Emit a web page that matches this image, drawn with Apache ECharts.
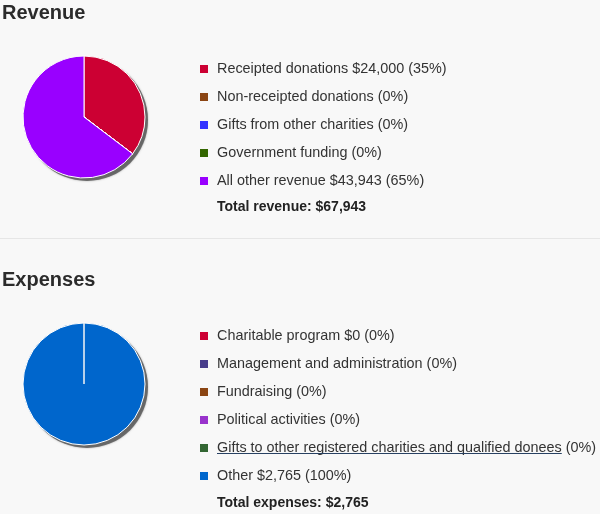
<!DOCTYPE html>
<html>
<head>
<meta charset="utf-8">
<script src="https://cdn.jsdelivr.net/npm/echarts@6/dist/echarts.min.js"></script>
<style>
html,body{margin:0;padding:0;background:#f8f8f8;}
#chart{width:600px;height:514px;}
</style>
</head>
<body>
<div id="chart"></div>
<script>
// ---- Data ----
var revenueCategories = ['Receipted donations', 'Non-receipted donations', 'Gifts from other charities', 'Government funding', 'All other revenue'];
var revenueValues = [24000, 0, 0, 0, 43943];
var revenueShowAmount = [true, false, false, false, true];
var revenueColors = ['#cc0033', '#8b4513', '#3333ff', '#336600', '#9900ff'];

var expenseCategories = ['Charitable program', 'Management and administration', 'Fundraising', 'Political activities', 'Gifts to other registered charities and qualified donees', 'Other'];
var expenseValues = [0, 0, 0, 0, 0, 2765];
var expenseShowAmount = [true, false, false, false, false, true];
var expenseColors = ['#cc0033', '#483d8b', '#8b4513', '#9933cc', '#336633', '#0066cc'];
var linkCategory = 'Gifts to other registered charities and qualified donees';

var sum = function (a) { return a.reduce(function (s, v) { return s + v; }, 0); };
var money = function (v) { return '$' + v.toLocaleString('en-US'); };
var revenueTotal = sum(revenueValues);
var expenseTotal = sum(expenseValues);

function buildLabel(cats, vals, show, total) {
  var map = {};
  cats.forEach(function (c, i) {
    var pct = total ? Math.round(vals[i] / total * 100) : 0;
    map[c] = c + (show[i] ? ' ' + money(vals[i]) : '') + ' (' + pct + '%)';
  });
  return map;
}
var revLabels = buildLabel(revenueCategories, revenueValues, revenueShowAmount, revenueTotal);
var expLabels = buildLabel(expenseCategories, expenseValues, expenseShowAmount, expenseTotal);

var FONT = '"Liberation Sans", Arial, sans-serif';
var FS = 14.4;
var R = 61;
var revCenter = [84, 117];
var expCenter = [84, 384];
var chart = echarts.init(document.getElementById('chart'), null, {renderer: 'canvas'});

function pieSeries(name, cats, vals, colors, center) {
  return {
    type: 'pie',
    name: name,
    center: center,
    radius: R,
    startAngle: 90,
    clockwise: true,
    z: 3,
    label: {show: false},
    labelLine: {show: false},
    emphasis: {disabled: true},
    silent: true,
    itemStyle: {borderColor: '#ffffff', borderWidth: 1},
    data: cats.map(function (c, i) {
      return {name: c, value: vals[i], itemStyle: {color: colors[i]}};
    })
  };
}
function shadowSeries(total, center) {
  return {
    type: 'pie',
    center: [center[0] + 3, center[1] + 3],
    radius: R,
    z: 1,
    label: {show: false},
    labelLine: {show: false},
    emphasis: {disabled: true},
    silent: true,
    itemStyle: {color: 'rgba(90,90,90,0.85)', shadowColor: 'rgba(90,90,90,0.6)', shadowBlur: 2},
    data: [{name: '', value: total}]
  };
}

function legendFor(cats, labels, top) {
  return {
    orient: 'vertical',
    left: 200,
    top: top,
    padding: 0,
    data: cats,
    icon: 'rect',
    itemWidth: 8,
    itemHeight: 8,
    itemGap: 14,
    selectedMode: false,
    itemStyle: {borderWidth: 0, shadowBlur: 0, shadowOffsetX: 0, shadowOffsetY: 0},
    textStyle: {
      fontFamily: FONT,
      fontSize: FS,
      color: '#333',
      lineHeight: 14,
      rich: {a: {fontFamily: FONT, fontSize: FS, color: '#333', lineHeight: 14, padding: [0, 0, 0, 4]}}
    },
    formatter: function (name) { return '{a|' + labels[name] + '}'; }
  };
}

// underline width for the link text
var ctx = document.createElement('canvas').getContext('2d');
ctx.font = FS + 'px ' + FONT;
var linkWidth = ctx.measureText(linkCategory).width;

chart.setOption({
  backgroundColor: '#f8f8f8',
  animation: false,
  legend: [
    legendFor(revenueCategories, revLabels, 62),
    legendFor(expenseCategories, expLabels, 329)
  ],
  series: [
    shadowSeries(revenueTotal, revCenter),
    shadowSeries(expenseTotal, expCenter),
    pieSeries('Revenue', revenueCategories, revenueValues, revenueColors, revCenter),
    pieSeries('Expenses', expenseCategories, expenseValues, expenseColors, expCenter)
  ],
  graphic: [
    {type: 'text', left: 2, top: 3, style: {text: 'Revenue', font: 'bold 20px ' + FONT, fill: '#2b2b2b'}},
    {type: 'rect', shape: {x: 0, y: 238, width: 600, height: 1}, style: {fill: '#e6e6e6'}},
    {type: 'text', left: 2, top: 270, style: {text: 'Expenses', font: 'bold 20px ' + FONT, fill: '#2b2b2b'}},
    {type: 'text', x: 217, y: 207, style: {text: 'Total revenue: ' + money(revenueTotal), font: 'bold 14px ' + FONT, fill: '#222', verticalAlign: 'middle'}},
    {type: 'text', x: 217, y: 503, style: {text: 'Total expenses: ' + money(expenseTotal), font: 'bold 14px ' + FONT, fill: '#222', verticalAlign: 'middle'}},
    {type: 'rect', z: 10, shape: {x: 217, y: 453, width: linkWidth, height: 1}, style: {fill: '#284162'}},
    // white slice border where the zero-value expense slices meet the full slice
    {type: 'line', z: 10, shape: {x1: expCenter[0], y1: expCenter[1], x2: expCenter[0], y2: expCenter[1] - R}, style: {stroke: '#f4f4f4', lineWidth: 1.5}}
  ]
});
</script>
</body>
</html>
